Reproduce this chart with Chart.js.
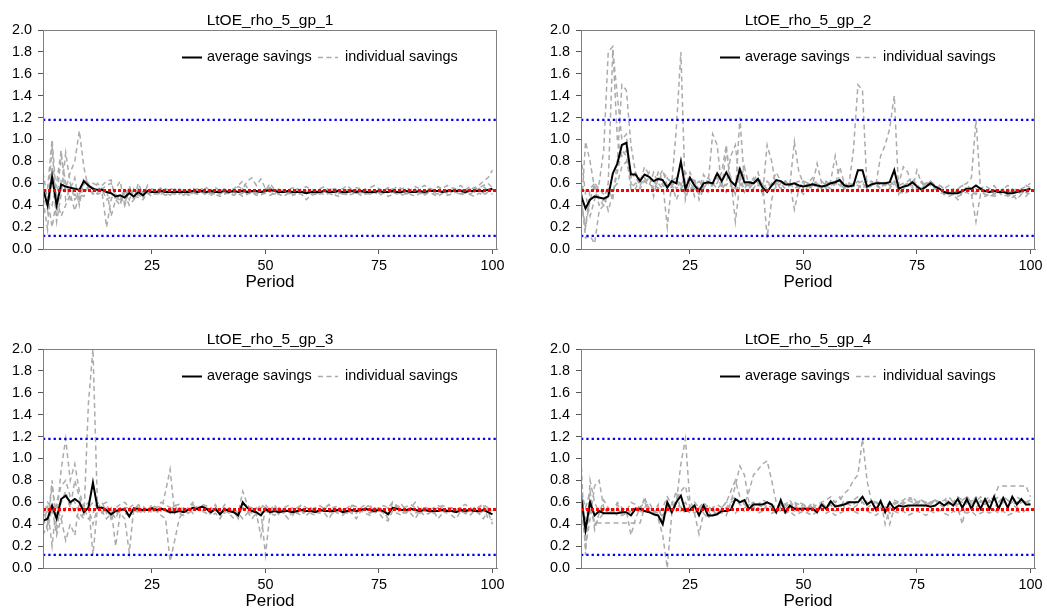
<!DOCTYPE html>
<html>
<head>
<meta charset="utf-8">
<script src="https://cdn.jsdelivr.net/npm/chart.js@4.4.1/dist/chart.umd.min.js"></script>
<style>
  html, body { margin: 0; padding: 0; background: #fff; }
  body { width: 1047px; height: 612px; position: relative; overflow: hidden; }
  canvas { position: absolute; }
</style>
</head>
<body>
<canvas id="gp1" width="523" height="293" style="left:0px;top:0px"></canvas>
<canvas id="gp2" width="509" height="293" style="left:538px;top:0px"></canvas>
<canvas id="gp3" width="523" height="293" style="left:0px;top:319px"></canvas>
<canvas id="gp4" width="509" height="293" style="left:538px;top:319px"></canvas>
<script>
// savings per period, four groups

const panelTitles = ['LtOE_rho_5_gp_1', 'LtOE_rho_5_gp_2', 'LtOE_rho_5_gp_3', 'LtOE_rho_5_gp_4'];
const legendLabels = ['average savings', 'individual savings'];
const xTicks = [25, 50, 75, 100];
const xRange = [1, 101];
const upperBound = 1.18;
const steadyState = 0.535;
const lowerBound = 0.12;

const gp1Average = [
  0.55,0.40,0.66,0.40,0.59,0.57,0.56,0.55,0.54,0.62,
  0.58,0.55,0.54,0.54,0.52,0.51,0.48,0.49,0.47,0.51,
  0.48,0.52,0.49,0.53,0.52,0.52,0.53,0.52,0.52,0.52,
  0.52,0.52,0.52,0.53,0.52,0.53,0.52,0.53,0.52,0.52,
  0.53,0.52,0.53,0.52,0.53,0.52,0.53,0.53,0.52,0.53,
  0.54,0.53,0.52,0.52,0.53,0.52,0.52,0.52,0.51,0.52,
  0.52,0.52,0.53,0.52,0.52,0.53,0.52,0.52,0.53,0.52,
  0.53,0.52,0.52,0.52,0.53,0.52,0.52,0.53,0.52,0.52,
  0.53,0.52,0.52,0.53,0.52,0.53,0.53,0.53,0.52,0.53,
  0.53,0.53,0.53,0.52,0.53,0.53,0.53,0.53,0.54,0.55
];
const gp1Individuals = [
  [0.60,0.35,0.95,0.30,0.62,0.55,0.70,0.80,1.08,0.75,
   0.55,0.50,0.52,0.55,0.45,0.48,0.50,0.45,0.52,0.55,
   0.50,0.55,0.52,0.54,0.53,0.51,0.52,0.55,0.53,0.50,
   0.52,0.54,0.51,0.53,0.55,0.52,0.50,0.53,0.54,0.52,
   0.51,0.53,0.55,0.58,0.62,0.56,0.52,0.50,0.53,0.55,
   0.52,0.50,0.53,0.54,0.51,0.52,0.55,0.53,0.50,0.52,
   0.54,0.51,0.53,0.55,0.52,0.50,0.53,0.54,0.52,0.51,
   0.53,0.55,0.52,0.50,0.54,0.53,0.51,0.52,0.55,0.53,
   0.50,0.52,0.54,0.53,0.51,0.55,0.52,0.50,0.53,0.54,
   0.52,0.55,0.53,0.51,0.54,0.56,0.58,0.62,0.65,0.72],
  [0.40,0.55,1.00,0.45,0.85,0.60,0.45,0.50,0.45,0.65,
   0.60,0.55,0.50,0.52,0.20,0.45,0.55,0.62,0.40,0.58,
   0.45,0.60,0.50,0.52,0.55,0.53,0.56,0.52,0.55,0.54,
   0.55,0.52,0.54,0.56,0.53,0.55,0.52,0.54,0.56,0.53,
   0.55,0.52,0.54,0.57,0.55,0.62,0.65,0.58,0.64,0.55,
   0.56,0.53,0.55,0.52,0.54,0.56,0.53,0.55,0.57,0.54,
   0.53,0.55,0.57,0.54,0.56,0.53,0.55,0.58,0.54,0.56,
   0.55,0.53,0.56,0.58,0.55,0.53,0.56,0.54,0.57,0.55,
   0.56,0.54,0.57,0.55,0.58,0.56,0.54,0.57,0.55,0.58,
   0.56,0.55,0.58,0.54,0.57,0.55,0.56,0.58,0.60,0.56],
  [0.45,0.18,0.75,0.25,0.50,0.88,0.60,0.45,0.50,0.60,
   0.55,0.60,0.58,0.50,0.55,0.30,0.45,0.40,0.55,0.45,
   0.55,0.48,0.52,0.50,0.52,0.50,0.51,0.49,0.52,0.50,
   0.50,0.52,0.49,0.51,0.50,0.52,0.49,0.51,0.50,0.48,
   0.50,0.52,0.49,0.51,0.48,0.50,0.52,0.49,0.50,0.51,
   0.49,0.51,0.50,0.48,0.51,0.49,0.52,0.50,0.45,0.49,
   0.50,0.52,0.49,0.51,0.50,0.48,0.51,0.49,0.50,0.52,
   0.49,0.51,0.50,0.52,0.49,0.51,0.48,0.50,0.52,0.49,
   0.51,0.50,0.48,0.51,0.49,0.52,0.50,0.48,0.51,0.49,
   0.50,0.52,0.49,0.51,0.50,0.48,0.51,0.49,0.52,0.50],
  [0.70,0.45,0.40,0.60,0.90,0.45,0.55,0.65,0.40,0.62,
   0.60,0.52,0.60,0.55,0.58,0.60,0.50,0.42,0.50,0.40,
   0.45,0.50,0.46,0.58,0.50,0.53,0.50,0.52,0.49,0.53,
   0.51,0.49,0.53,0.50,0.52,0.54,0.51,0.49,0.52,0.50,
   0.53,0.50,0.52,0.49,0.51,0.53,0.50,0.52,0.49,0.53,
   0.60,0.54,0.50,0.52,0.53,0.50,0.49,0.52,0.51,0.53,
   0.50,0.52,0.54,0.51,0.49,0.53,0.52,0.50,0.54,0.51,
   0.53,0.50,0.52,0.54,0.51,0.53,0.55,0.52,0.50,0.53,
   0.52,0.54,0.51,0.53,0.50,0.52,0.54,0.57,0.53,0.51,
   0.54,0.52,0.50,0.53,0.55,0.52,0.54,0.51,0.53,0.55],
  [0.55,0.48,0.20,0.45,0.30,0.40,0.50,0.35,0.50,0.48,
   0.58,0.56,0.52,0.58,0.62,0.63,0.44,0.50,0.40,0.54,
   0.48,0.47,0.45,0.51,0.48,0.52,0.55,0.51,0.53,0.55,
   0.52,0.53,0.55,0.52,0.51,0.53,0.56,0.52,0.50,0.54,
   0.53,0.51,0.54,0.52,0.55,0.50,0.53,0.51,0.52,0.54,
   0.52,0.55,0.51,0.53,0.50,0.52,0.54,0.51,0.53,0.50,
   0.52,0.50,0.53,0.51,0.55,0.52,0.50,0.53,0.51,0.54,
   0.51,0.53,0.50,0.52,0.54,0.51,0.53,0.55,0.52,0.50,
   0.53,0.51,0.55,0.52,0.50,0.53,0.51,0.54,0.52,0.55,
   0.51,0.53,0.55,0.52,0.50,0.53,0.55,0.57,0.53,0.54]
];

const gp2Average = [
  0.49,0.37,0.45,0.48,0.47,0.46,0.48,0.69,0.78,0.95,
  0.97,0.68,0.68,0.62,0.68,0.66,0.62,0.64,0.63,0.56,
  0.62,0.60,0.80,0.55,0.65,0.58,0.53,0.60,0.61,0.60,
  0.69,0.62,0.70,0.62,0.58,0.73,0.61,0.61,0.60,0.64,
  0.56,0.52,0.58,0.63,0.62,0.59,0.59,0.60,0.58,0.57,
  0.58,0.59,0.58,0.57,0.58,0.60,0.61,0.63,0.58,0.57,
  0.58,0.72,0.72,0.57,0.59,0.60,0.60,0.60,0.61,0.72,
  0.55,0.57,0.58,0.61,0.57,0.54,0.57,0.60,0.57,0.55,
  0.52,0.51,0.51,0.51,0.53,0.55,0.55,0.58,0.55,0.53,
  0.52,0.53,0.52,0.52,0.51,0.51,0.52,0.53,0.54,0.55
];
const gp2Individuals = [
  [0.85,0.50,0.30,0.45,0.60,0.90,1.80,1.85,1.00,0.85,
   0.90,0.70,0.65,0.60,0.75,0.68,0.55,0.70,0.62,0.58,
   0.60,0.45,0.55,0.70,0.65,0.48,0.55,0.68,0.60,1.05,
   0.95,0.55,0.90,0.60,0.50,0.62,0.75,0.58,0.65,0.60,
   0.50,0.95,0.80,0.55,0.60,0.62,0.58,0.98,0.70,0.60,
   0.55,0.58,0.78,0.60,0.55,0.62,0.85,0.60,0.55,0.58,
   0.90,1.50,1.45,0.55,0.60,0.62,0.58,0.60,0.55,0.62,
   0.58,0.60,0.62,0.65,0.58,0.55,0.60,0.62,0.58,0.55,
   0.52,0.50,0.55,0.52,0.50,0.58,0.55,0.52,0.55,0.50,
   0.52,0.55,0.50,0.53,0.55,0.50,0.52,0.55,0.57,0.60],
  [0.30,0.98,0.80,0.55,0.40,0.45,0.60,1.82,1.40,1.00,
   1.05,0.60,0.55,0.65,0.62,0.58,0.70,0.60,0.55,0.65,
   0.58,0.62,0.55,0.60,0.52,0.65,0.45,0.55,0.62,0.58,
   0.60,0.70,0.95,0.58,0.55,0.68,0.52,0.60,0.55,0.62,
   0.58,0.55,0.60,0.70,0.62,0.58,0.60,0.36,0.55,0.62,
   0.60,0.65,0.58,0.55,0.62,0.58,0.60,0.62,0.55,0.60,
   0.58,0.62,0.60,0.55,0.58,0.60,0.85,0.95,1.10,1.40,
   0.50,0.55,0.60,0.58,0.55,0.62,0.58,0.60,0.55,0.58,
   0.55,0.52,0.50,0.55,0.58,0.55,0.52,0.50,0.55,0.52,
   0.55,0.50,0.52,0.55,0.50,0.52,0.55,0.53,0.50,0.55],
  [0.50,0.10,0.12,0.05,0.35,0.40,0.55,0.45,0.80,1.50,
   1.45,0.95,0.70,0.62,0.60,0.65,0.62,0.55,0.60,0.20,
   0.62,0.65,0.58,0.55,0.70,0.60,0.55,0.62,0.65,0.60,
   0.55,0.60,0.58,0.65,0.25,0.60,0.55,0.62,0.60,0.58,
   0.62,0.10,0.45,0.60,0.58,0.62,0.60,0.55,0.58,0.62,
   0.58,0.55,0.60,0.62,0.58,0.55,0.60,0.58,0.62,0.55,
   0.60,0.58,0.55,0.60,0.62,0.58,0.55,0.60,0.58,0.62,
   0.60,0.75,0.70,0.55,0.72,0.60,0.58,0.62,0.55,0.58,
   0.55,0.58,0.52,0.55,0.58,0.60,0.65,1.18,0.55,0.58,
   0.55,0.58,0.52,0.55,0.58,0.55,0.52,0.55,0.58,0.56],
  [0.40,0.20,0.45,0.60,0.55,0.50,0.35,0.50,0.70,0.90,
   0.85,0.55,0.60,0.58,0.65,0.60,0.55,0.62,0.70,0.65,
   0.60,1.10,1.80,0.45,0.60,0.55,0.50,0.58,0.52,0.60,
   0.70,0.55,0.60,0.85,0.95,0.58,0.62,0.55,0.60,0.65,
   0.55,0.60,0.58,0.62,0.60,0.55,0.58,0.60,0.62,0.55,
   0.60,0.58,0.62,0.55,0.58,0.60,0.62,0.58,0.55,0.60,
   0.58,0.55,0.60,0.62,0.58,0.60,0.55,0.62,0.58,0.60,
   0.55,0.50,0.52,0.62,0.58,0.55,0.60,0.58,0.55,0.52,
   0.50,0.48,0.50,0.45,0.52,0.55,0.50,0.25,0.50,0.48,
   0.50,0.48,0.50,0.52,0.48,0.50,0.45,0.50,0.52,0.50],
  [0.45,0.20,0.55,0.60,0.45,0.40,0.50,0.55,0.60,0.75,
   0.80,0.65,0.70,0.55,0.62,0.70,0.48,0.65,0.72,0.58,
   0.62,0.55,0.60,0.50,0.65,0.58,0.62,0.55,0.62,0.58,
   0.65,0.60,0.52,0.58,0.50,1.20,0.60,0.55,0.62,0.70,
   0.55,0.62,0.58,0.60,0.55,0.62,0.58,0.60,0.55,0.50,
   0.58,0.60,0.55,0.58,0.60,0.62,0.58,0.75,0.60,0.55,
   0.58,0.60,0.62,0.55,0.58,0.62,0.60,0.58,0.62,0.58,
   0.55,0.58,0.60,0.62,0.55,0.58,0.60,0.62,0.58,0.55,
   0.50,0.52,0.50,0.48,0.50,0.52,0.48,0.55,0.52,0.50,
   0.48,0.50,0.52,0.48,0.50,0.47,0.50,0.52,0.48,0.53]
];

const gp3Average = [
  0.43,0.45,0.57,0.45,0.63,0.66,0.60,0.63,0.60,0.51,
  0.55,0.78,0.55,0.55,0.53,0.49,0.52,0.53,0.54,0.47,
  0.545,0.54,0.53,0.53,0.545,0.53,0.54,0.53,0.51,0.51,
  0.52,0.51,0.53,0.55,0.54,0.56,0.54,0.51,0.54,0.49,
  0.54,0.52,0.51,0.48,0.60,0.55,0.52,0.51,0.48,0.54,
  0.51,0.52,0.51,0.52,0.52,0.51,0.52,0.53,0.52,0.52,
  0.51,0.53,0.52,0.52,0.52,0.53,0.51,0.52,0.53,0.52,
  0.53,0.54,0.53,0.52,0.53,0.52,0.49,0.55,0.54,0.53,
  0.53,0.54,0.53,0.52,0.53,0.52,0.52,0.52,0.53,0.52,
  0.52,0.51,0.53,0.52,0.53,0.52,0.52,0.53,0.51,0.49
];
const gp3Individuals = [
  [0.40,0.55,0.20,0.60,0.75,0.80,0.65,0.60,0.50,0.45,
   1.50,2.00,0.55,0.50,0.55,0.52,0.45,0.55,0.50,0.48,
   0.55,0.52,0.50,0.55,0.53,0.50,0.55,0.52,0.50,0.55,
   0.52,0.55,0.50,0.53,0.55,0.52,0.50,0.55,0.53,0.50,
   0.55,0.52,0.50,0.48,0.55,0.52,0.50,0.55,0.52,0.12,
   0.50,0.52,0.55,0.50,0.53,0.55,0.50,0.52,0.55,0.53,
   0.50,0.55,0.52,0.50,0.55,0.53,0.50,0.55,0.52,0.50,
   0.55,0.52,0.50,0.55,0.53,0.50,0.55,0.52,0.58,0.50,
   0.53,0.55,0.50,0.52,0.55,0.50,0.53,0.55,0.52,0.50,
   0.55,0.52,0.50,0.53,0.55,0.52,0.50,0.55,0.52,0.40],
  [0.30,0.40,0.75,0.45,0.90,1.18,0.80,0.95,0.70,0.55,
   0.60,0.12,0.55,0.60,0.50,0.55,0.20,0.50,0.55,0.52,
   0.50,0.55,0.52,0.55,0.50,0.55,0.52,0.70,0.90,0.50,
   0.55,0.52,0.50,0.55,0.52,0.58,0.53,0.50,0.55,0.52,
   0.50,0.55,0.52,0.50,0.70,0.58,0.52,0.50,0.29,0.55,
   0.52,0.50,0.55,0.53,0.50,0.52,0.55,0.50,0.53,0.55,
   0.52,0.50,0.55,0.52,0.50,0.53,0.55,0.52,0.50,0.55,
   0.53,0.55,0.50,0.52,0.55,0.53,0.50,0.55,0.52,0.53,
   0.50,0.55,0.52,0.50,0.55,0.53,0.50,0.52,0.55,0.53,
   0.50,0.55,0.52,0.50,0.53,0.55,0.50,0.52,0.54,0.50],
  [0.55,0.40,0.80,0.35,0.60,0.70,0.55,0.80,0.65,0.50,
   0.55,0.60,0.55,0.52,0.45,0.50,0.55,0.50,0.45,0.14,
   0.55,0.50,0.52,0.50,0.55,0.52,0.48,0.45,0.06,0.25,
   0.45,0.52,0.55,0.50,0.55,0.52,0.55,0.48,0.50,0.45,
   0.52,0.50,0.45,0.50,0.55,0.52,0.45,0.50,0.48,0.52,
   0.50,0.48,0.52,0.50,0.45,0.52,0.50,0.48,0.52,0.50,
   0.48,0.52,0.50,0.45,0.52,0.50,0.48,0.52,0.50,0.45,
   0.52,0.50,0.48,0.52,0.50,0.45,0.43,0.52,0.50,0.48,
   0.52,0.50,0.45,0.52,0.48,0.50,0.52,0.45,0.50,0.52,
   0.48,0.45,0.52,0.50,0.48,0.52,0.50,0.45,0.52,0.50],
  [0.45,0.60,0.55,0.30,0.45,0.55,0.60,0.50,0.45,0.50,
   0.55,0.40,0.55,0.58,0.60,0.45,0.55,0.58,0.60,0.55,
   0.58,0.55,0.57,0.52,0.58,0.55,0.60,0.58,0.55,0.57,
   0.58,0.50,0.55,0.60,0.55,0.58,0.57,0.52,0.58,0.48,
   0.55,0.50,0.53,0.45,0.58,0.57,0.55,0.52,0.58,0.55,
   0.53,0.58,0.50,0.55,0.57,0.52,0.55,0.58,0.55,0.53,
   0.55,0.57,0.54,0.58,0.55,0.57,0.52,0.55,0.58,0.56,
   0.55,0.58,0.56,0.53,0.55,0.57,0.55,0.60,0.57,0.55,
   0.56,0.58,0.55,0.53,0.56,0.54,0.52,0.55,0.57,0.55,
   0.55,0.53,0.56,0.58,0.55,0.53,0.56,0.58,0.55,0.52],
  [0.45,0.35,0.55,0.55,0.45,0.25,0.40,0.30,0.60,0.55,
   0.45,0.50,0.60,0.55,0.55,0.45,0.50,0.52,0.55,0.55,
   0.52,0.58,0.55,0.53,0.55,0.57,0.55,0.52,0.50,0.58,
   0.50,0.48,0.55,0.58,0.53,0.57,0.55,0.52,0.53,0.50,
   0.58,0.53,0.55,0.50,0.45,0.50,0.55,0.48,0.55,0.58,
   0.52,0.55,0.48,0.55,0.52,0.48,0.55,0.57,0.48,0.52,
   0.55,0.52,0.55,0.58,0.52,0.55,0.53,0.50,0.57,0.55,
   0.52,0.55,0.58,0.50,0.55,0.52,0.45,0.60,0.55,0.58,
   0.52,0.55,0.60,0.53,0.55,0.52,0.55,0.57,0.55,0.52,
   0.55,0.52,0.55,0.50,0.55,0.52,0.55,0.58,0.45,0.44]
];

const gp4Average = [
  0.66,0.35,0.60,0.48,0.52,0.50,0.50,0.50,0.50,0.51,
  0.51,0.48,0.54,0.54,0.52,0.51,0.49,0.48,0.40,0.60,
  0.51,0.60,0.66,0.52,0.53,0.57,0.48,0.57,0.48,0.48,
  0.49,0.52,0.52,0.53,0.63,0.60,0.62,0.54,0.58,0.58,
  0.58,0.60,0.58,0.51,0.62,0.51,0.57,0.54,0.54,0.54,
  0.54,0.54,0.51,0.58,0.54,0.61,0.56,0.57,0.58,0.60,
  0.60,0.60,0.65,0.58,0.61,0.53,0.61,0.51,0.60,0.54,
  0.57,0.56,0.57,0.57,0.57,0.57,0.57,0.56,0.57,0.60,
  0.57,0.60,0.57,0.63,0.55,0.63,0.54,0.63,0.54,0.63,
  0.54,0.65,0.54,0.64,0.55,0.65,0.58,0.63,0.58,0.58
];
const gp4Individuals = [
  [1.00,0.12,0.80,0.60,0.50,0.55,0.50,0.52,0.55,0.48,
   0.50,0.52,0.55,0.50,0.65,0.52,0.50,0.45,0.30,0.00,
   0.50,0.60,0.95,1.18,0.60,0.55,0.50,0.60,0.45,0.55,
   0.58,0.55,0.60,0.62,0.65,0.60,0.58,0.55,0.60,0.58,
   0.62,0.60,0.58,0.55,0.60,0.58,0.62,0.55,0.60,0.58,
   0.55,0.58,0.52,0.60,0.55,0.62,0.60,0.65,0.55,0.60,
   0.58,0.62,0.65,0.60,0.58,0.55,0.62,0.40,0.55,0.60,
   0.58,0.60,0.62,0.65,0.60,0.62,0.58,0.60,0.62,0.60,
   0.62,0.65,0.60,0.58,0.62,0.65,0.60,0.65,0.62,0.58,
   0.62,0.65,0.75,0.75,0.75,0.75,0.75,0.75,0.75,0.65],
  [0.50,0.30,0.55,0.41,0.41,0.41,0.41,0.41,0.41,0.41,
   0.41,0.41,0.41,0.41,0.55,0.60,0.52,0.50,0.48,0.55,
   0.60,0.52,0.55,0.50,0.58,0.50,0.31,0.50,0.45,0.55,
   0.50,0.55,0.60,0.70,0.80,0.65,0.58,0.70,0.85,0.90,
   0.95,0.98,0.80,0.60,0.55,0.50,0.55,0.60,0.58,0.55,
   0.58,0.55,0.50,0.60,0.55,0.58,0.52,0.55,0.60,0.58,
   0.55,0.58,0.60,0.55,0.58,0.60,0.55,0.58,0.40,0.55,
   0.58,0.60,0.55,0.58,0.60,0.58,0.55,0.60,0.62,0.58,
   0.55,0.58,0.60,0.55,0.40,0.62,0.58,0.55,0.60,0.58,
   0.62,0.58,0.55,0.60,0.62,0.58,0.55,0.60,0.62,0.58],
  [0.60,0.20,0.45,0.75,0.80,0.55,0.50,0.52,0.48,0.50,
   0.52,0.30,0.45,0.55,0.60,0.52,0.50,0.55,0.45,0.60,
   0.55,0.62,0.70,0.75,0.55,0.50,0.55,0.52,0.58,0.50,
   0.55,0.52,0.48,0.60,0.75,0.93,0.85,0.60,0.55,0.58,
   0.55,0.60,0.58,0.55,0.52,0.58,0.55,0.60,0.52,0.55,
   0.52,0.55,0.58,0.60,0.62,0.65,0.60,0.62,0.68,0.72,
   0.80,0.85,1.18,0.80,0.60,0.55,0.58,0.55,0.60,0.58,
   0.60,0.62,0.65,0.62,0.60,0.62,0.58,0.60,0.62,0.60,
   0.58,0.62,0.60,0.65,0.62,0.60,0.58,0.62,0.60,0.62,
   0.60,0.62,0.65,0.60,0.62,0.58,0.60,0.62,0.60,0.62],
  [0.70,0.55,0.70,0.35,0.50,0.62,0.55,0.50,0.58,0.52,
   0.55,0.50,0.55,0.52,0.50,0.55,0.52,0.50,0.55,0.65,
   0.58,0.70,0.52,0.55,0.50,0.60,0.55,0.50,0.52,0.48,
   0.52,0.50,0.55,0.58,0.50,0.55,0.52,0.58,0.55,0.50,
   0.52,0.55,0.50,0.52,0.55,0.50,0.52,0.48,0.50,0.52,
   0.50,0.48,0.52,0.55,0.50,0.52,0.48,0.50,0.52,0.55,
   0.52,0.50,0.55,0.52,0.50,0.48,0.52,0.55,0.50,0.52,
   0.50,0.52,0.48,0.50,0.52,0.50,0.48,0.52,0.50,0.53,
   0.50,0.48,0.52,0.50,0.53,0.50,0.52,0.48,0.50,0.52,
   0.50,0.53,0.50,0.52,0.48,0.50,0.52,0.50,0.53,0.52],
  [0.55,0.45,0.60,0.40,0.45,0.50,0.55,0.52,0.60,0.55,
   0.52,0.60,0.58,0.55,0.62,0.55,0.50,0.58,0.40,0.55,
   0.50,0.58,0.55,0.60,0.52,0.58,0.55,0.60,0.55,0.52,
   0.50,0.52,0.55,0.60,0.62,0.58,0.55,0.58,0.60,0.55,
   0.52,0.58,0.55,0.50,0.58,0.55,0.60,0.52,0.55,0.58,
   0.55,0.60,0.52,0.58,0.55,0.60,0.58,0.55,0.62,0.60,
   0.62,0.65,0.60,0.58,0.62,0.60,0.58,0.55,0.60,0.62,
   0.60,0.58,0.62,0.60,0.58,0.62,0.60,0.58,0.62,0.60,
   0.62,0.60,0.58,0.62,0.60,0.65,0.62,0.60,0.65,0.62,
   0.65,0.62,0.60,0.65,0.62,0.60,0.65,0.62,0.60,0.62]
];

Chart.defaults.font.family = '"Liberation Sans", Arial, Helvetica, sans-serif';
Chart.defaults.color = '#000';

// box round the plot, title above it, legend inside the top of it
const panelDecor = {
  id: 'panelDecor',
  afterDraw(chart, args, opts) {
    const ctx = chart.ctx;
    const a = chart.chartArea;
    ctx.save();
    ctx.strokeStyle = '#808080';
    ctx.lineWidth = 1;
    ctx.strokeRect(a.left + 0.5, a.top + 0.5, a.right - a.left - 1, a.bottom - a.top);

    ctx.fillStyle = '#000';
    ctx.textAlign = 'center';
    ctx.textBaseline = 'alphabetic';
    ctx.font = '15.5px ' + Chart.defaults.font.family;
    ctx.fillText(opts.title, (a.left + a.right) / 2, a.top - 5);

    const ly = a.top + 27.5;
    ctx.font = '14.4px ' + Chart.defaults.font.family;
    ctx.textAlign = 'left';
    ctx.textBaseline = 'middle';
    ctx.strokeStyle = '#000';
    ctx.lineWidth = 2;
    ctx.beginPath();
    ctx.moveTo(a.left + 139, ly);
    ctx.lineTo(a.left + 159, ly);
    ctx.stroke();
    ctx.fillText(legendLabels[0], a.left + 164, ly);

    ctx.strokeStyle = '#aaaaaa';
    ctx.lineWidth = 1.5;
    ctx.setLineDash([5, 3.5]);
    ctx.beginPath();
    ctx.moveTo(a.left + 275, ly);
    ctx.lineTo(a.left + 295, ly);
    ctx.stroke();
    ctx.setLineDash([]);
    ctx.fillText(legendLabels[1], a.left + 302, ly);
    ctx.restore();
  }
};

function drawPanel(canvasId, title, average, individuals, padRight) {
  const toPoints = vals => vals.map((v, i) => ({ x: i + 1, y: v }));
  const hline = v => xRange.map(x => ({ x: x, y: v }));

  const datasets = individuals.map(series => ({
    data: toPoints(series),
    borderColor: '#ababab',
    borderWidth: 1.5,
    borderDash: [5, 3.5],
    pointRadius: 0,
    order: 3
  }));
  datasets.push({ data: toPoints(average), borderColor: '#000000', borderWidth: 2, pointRadius: 0, order: 2 });
  datasets.push({ data: hline(steadyState), borderColor: '#ff0000', borderWidth: 3, borderDash: [3, 2], pointRadius: 0, order: 1 });
  datasets.push({ data: hline(upperBound), borderColor: '#0000ff', borderWidth: 2.3, borderDash: [2.3, 3], pointRadius: 0, order: 0 });
  datasets.push({ data: hline(lowerBound), borderColor: '#0000ff', borderWidth: 2.3, borderDash: [2.3, 3], pointRadius: 0, order: 0 });

  new Chart(document.getElementById(canvasId), {
    type: 'line',
    data: { datasets: datasets },
    plugins: [panelDecor],
    options: {
      responsive: false,
      animation: false,
      events: [],
      layout: { padding: { left: 0, top: 30, right: padRight, bottom: 0 } },
      plugins: {
        legend: { display: false },
        tooltip: { enabled: false },
        panelDecor: { title: title }
      },
      scales: {
        x: {
          type: 'linear',
          min: xRange[0],
          max: xRange[1],
          afterBuildTicks: scale => { scale.ticks = xTicks.map(v => ({ value: v })); },
          afterFit: scale => { scale.height = 44; },
          ticks: { font: { size: 14.4 }, color: '#000', padding: 3, maxRotation: 0, autoSkip: false },
          grid: { drawOnChartArea: false, tickLength: 5, color: '#555' },
          border: { color: '#808080' },
          title: { display: true, text: 'Period', font: { size: 17 }, color: '#000', padding: 0 }
        },
        y: {
          min: 0,
          max: 2,
          afterFit: scale => { scale.width = 43; },
          ticks: { stepSize: 0.2, callback: v => v.toFixed(1), font: { size: 14.4 }, color: '#000', padding: 6 },
          grid: { drawOnChartArea: false, tickLength: 5, color: '#555' },
          border: { color: '#808080' }
        }
      }
    }
  });
}

drawPanel('gp1', panelTitles[0], gp1Average, gp1Individuals, 26);
drawPanel('gp2', panelTitles[1], gp2Average, gp2Individuals, 12);
drawPanel('gp3', panelTitles[2], gp3Average, gp3Individuals, 26);
drawPanel('gp4', panelTitles[3], gp4Average, gp4Individuals, 12);
</script>
</body>
</html>
